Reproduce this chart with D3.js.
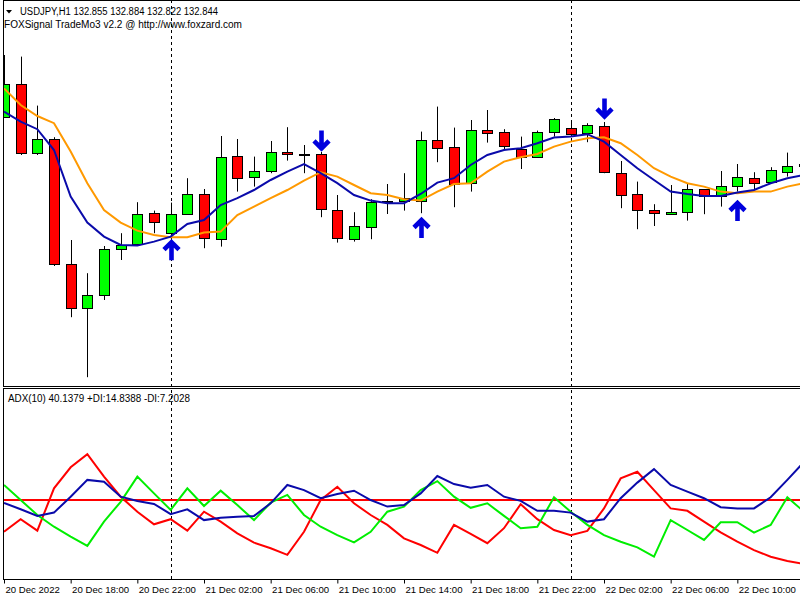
<!DOCTYPE html>
<html>
<head>
<meta charset="utf-8">
<script src="https://cdn.jsdelivr.net/npm/d3@7"></script>
<style>
body { margin: 0; background: #fff; }
text { font-family: "Liberation Sans", Arial, sans-serif; fill: #000; }
</style>
</head>
<body>
<div id="chart"></div>
<script>
// USDJPY H1, 20 Dec 2022 14:00 onward (one entry per bar)
var opens  = [133.089,133.255,132.909,132.980,132.354,132.134,132.199,132.429,132.455,132.612,
              132.512,132.605,132.705,132.479,132.895,132.790,132.822,132.917,132.904,132.905,
              132.625,132.484,132.542,132.670,132.667,132.672,132.975,132.942,132.759,133.025,
              133.014,132.930,132.889,133.014,133.037,133.008,133.045,132.812,132.704,132.625,
              132.605,132.614,132.729,132.695,132.745,132.787,132.764,132.817,132.855];
var highs  = [133.400,133.392,133.147,132.989,132.475,132.309,132.445,132.509,132.664,132.622,
              132.662,132.784,132.730,132.995,132.980,132.892,132.970,133.039,132.950,132.915,
              132.700,132.614,132.679,132.755,132.809,133.017,133.142,133.037,133.075,133.125,
              133.029,132.992,133.022,133.085,133.070,133.059,133.065,132.870,132.767,132.654,
              132.750,132.755,132.730,132.820,132.855,132.814,132.839,132.912,132.884];
var lows   = [133.085,132.900,132.900,132.345,132.089,131.789,132.175,132.375,132.450,132.509,
              132.395,132.603,132.434,132.442,132.717,132.742,132.809,132.872,132.809,132.589,
              132.462,132.467,132.479,132.605,132.622,132.609,132.864,132.639,132.717,132.962,
              132.925,132.830,132.888,132.992,132.992,132.964,132.809,132.634,132.529,132.545,
              132.602,132.572,132.604,132.642,132.717,132.725,132.759,132.792,132.822];
var closes = [133.255,132.909,132.980,132.354,132.134,132.199,132.429,132.450,132.605,132.567,
              132.605,132.705,132.484,132.889,132.787,132.822,132.917,132.905,132.904,132.629,
              132.484,132.547,132.667,132.670,132.684,132.975,132.937,132.759,133.025,133.008,
              132.942,132.889,133.014,133.079,133.005,133.050,132.817,132.700,132.622,132.609,
              132.615,132.729,132.692,132.745,132.789,132.764,132.825,132.847,132.844];

// moving averages drawn over the candles
var maFast = [133.117,133.067,133.029,132.925,132.692,132.562,132.492,132.450,132.447,132.467,
              132.492,132.555,132.575,132.650,132.684,132.725,132.775,132.817,132.854,132.809,
              132.759,132.700,132.672,132.659,132.659,132.705,132.762,132.784,132.850,132.900,
              132.925,132.934,132.959,132.987,132.992,133.004,132.967,132.900,132.834,132.775,
              132.717,132.705,132.695,132.695,132.712,132.725,132.759,132.784,132.800];
var maSlow = [133.233,133.150,133.095,133.059,132.917,132.759,132.625,132.562,132.522,132.500,
              132.489,132.489,132.512,132.517,132.600,132.642,132.684,132.725,132.772,132.814,
              132.792,132.750,132.709,132.700,132.679,132.672,132.717,132.755,132.759,132.817,
              132.867,132.889,132.905,132.942,132.967,132.984,132.989,132.959,132.900,132.834,
              132.792,132.759,132.742,132.717,132.709,132.717,132.717,132.742,132.759];

// signal arrows
var signalBars   = [10, 19, 25, 36, 44];
var signalDirs   = ["up", "down", "up", "down", "up"];
var signalPrices = [132.479, 132.918, 132.590, 133.078, 132.675];

// ADX(10) sub window
var adxLine = [24.0,21.9,19.7,20.8,26.1,31.7,31.1,26.1,24.7,23.7,
               20.3,21.9,18.3,19.1,19.4,19.7,23.9,30.0,28.3,25.6,
               27.0,28.1,25.0,22.8,23.3,27.2,33.0,30.3,29.1,30.0,
               26.1,24.7,21.4,21.4,20.8,17.8,18.6,25.6,30.8,35.3,
               30.0,27.8,25.6,22.6,22.2,22.2,25.9,31.7,37.7];
var plusDI  = [30.0,25.0,20.0,16.1,12.8,9.7,17.8,24.4,32.8,27.2,
               21.7,28.9,23.0,28.1,23.3,18.3,24.1,26.7,20.0,16.1,
               13.3,10.9,14.4,21.1,22.8,28.3,31.3,26.1,22.4,23.9,
               19.7,15.6,16.1,25.9,21.1,16.7,13.3,11.1,9.2,6.1,
               18.3,15.0,11.7,17.6,17.6,14.1,16.7,25.9,21.1];
var minusDI = [14.4,18.6,14.8,28.9,35.9,40.3,32.8,26.1,21.1,16.9,
               18.6,14.8,21.1,17.8,13.9,10.8,8.9,6.7,14.4,25.0,
               29.4,23.9,20.0,16.7,12.2,10.0,7.4,16.7,13.7,10.6,
               15.6,23.6,18.6,15.0,13.3,14.7,22.2,32.2,34.4,28.3,
               22.2,21.4,17.8,14.2,11.1,8.3,6.1,4.7,3.7];
var adxLevel = 25;

var tickBars   = [0, 4, 8, 12, 16, 20, 24, 28, 32, 36, 40, 44];
var tickLabels = ["20 Dec 2022", "20 Dec 18:00", "20 Dec 22:00", "21 Dec 02:00",
                  "21 Dec 06:00", "21 Dec 10:00", "21 Dec 14:00", "21 Dec 18:00",
                  "21 Dec 22:00", "22 Dec 02:00", "22 Dec 06:00", "22 Dec 10:00"];
var daySeparators = [10, 34];

var mainTop = 0, mainBottom = 386, adxTop = 388, adxBottom = 579, leftEdge = 3;

var svg = d3.select("#chart")
    .append("svg")
    .attr("width", 800)
    .attr("height", 600);

var x = d3.scaleLinear()
    .domain([0, opens.length - 1])
    .range([4, 804]);

var y = d3.scaleLinear()
    .domain([131.745, 133.675])
    .range([mainBottom, mainTop]);

var adxY = d3.scaleLinear()
    .domain([0, 50])
    .range([575, 425]);

var defs = svg.append("defs");
defs.append("clipPath").attr("id", "clipMain")
    .append("rect").attr("x", leftEdge + 1).attr("y", mainTop + 1)
    .attr("width", 800).attr("height", mainBottom - mainTop - 1);
defs.append("clipPath").attr("id", "clipAdx")
    .append("rect").attr("x", leftEdge + 1).attr("y", adxTop + 1)
    .attr("width", 800).attr("height", adxBottom - adxTop - 1);

// day separators
svg.append("g").selectAll("line")
    .data(daySeparators)
    .enter()
    .append("line")
    .attr("x1", function(d) { return Math.round(x(d)) + 0.5; })
    .attr("x2", function(d) { return Math.round(x(d)) + 0.5; })
    .attr("y1", mainTop)
    .attr("y2", adxBottom)
    .attr("stroke", "#000")
    .attr("stroke-dasharray", "3,3");

// candles
var main = svg.append("g").attr("clip-path", "url(#clipMain)");

main.append("g").selectAll("line")
    .data(opens)
    .enter()
    .append("line")
    .attr("x1", function(d, i) { return Math.round(x(i)) + 0.5; })
    .attr("x2", function(d, i) { return Math.round(x(i)) + 0.5; })
    .attr("y1", function(d, i) { return y(highs[i]); })
    .attr("y2", function(d, i) { return y(lows[i]); })
    .attr("stroke", "#000");

main.append("g").selectAll("rect")
    .data(opens)
    .enter()
    .append("rect")
    .attr("x", function(d, i) { return Math.round(x(i)) - 5 + 0.5; })
    .attr("width", 10)
    .attr("y", function(d, i) { return Math.round(Math.min(y(d), y(closes[i]))) + 0.5; })
    .attr("height", function(d, i) { return Math.max(Math.round(Math.abs(y(d) - y(closes[i]))), 1); })
    .attr("fill", function(d, i) {
        if (closes[i] > d) return "#00ff00";
        if (closes[i] < d) return "#ff0000";
        return "#000";
    })
    .attr("stroke", "#000");

var maLine = d3.line()
    .x(function(d, i) { return x(i); })
    .y(function(d) { return y(d); });

main.append("path")
    .attr("d", maLine(maSlow))
    .attr("fill", "none")
    .attr("stroke", "#ff9900")
    .attr("stroke-width", 2);

main.append("path")
    .attr("d", maLine(maFast))
    .attr("fill", "none")
    .attr("stroke", "#0a0aaa")
    .attr("stroke-width", 2);

// arrows
main.append("g").selectAll("path")
    .data(signalBars)
    .enter()
    .append("path")
    .attr("transform", function(d, i) {
        var flip = signalDirs[i] == "up" ? 1 : -1;
        return "translate(" + (Math.round(x(d)) + 0.5) + "," + y(signalPrices[i]) + ") scale(1," + flip + ")";
    })
    .attr("d", "M0,3 L0,21 M-7.5,10.5 L0,3 L7.5,10.5")
    .attr("fill", "none")
    .attr("stroke", "#0000dd")
    .attr("stroke-width", 4.6);

// ADX window
var adx = svg.append("g").attr("clip-path", "url(#clipAdx)");

adx.append("line")
    .attr("x1", leftEdge)
    .attr("x2", 800)
    .attr("y1", adxY(adxLevel))
    .attr("y2", adxY(adxLevel))
    .attr("stroke", "#ff0000")
    .attr("stroke-width", 2);

var adxPath = d3.line()
    .x(function(d, i) { return x(i); })
    .y(function(d) { return adxY(d); });

var adxSeries = [
    { values: minusDI, color: "#ff0000" },
    { values: plusDI, color: "#00ee00" },
    { values: adxLine, color: "#0a0aaa" }
];

adx.selectAll("path.series")
    .data(adxSeries)
    .enter()
    .append("path")
    .attr("class", "series")
    .attr("d", function(d) { return adxPath(d.values); })
    .attr("fill", "none")
    .attr("stroke", function(d) { return d.color; })
    .attr("stroke-width", 2);

// frames
var frame = svg.append("g").attr("stroke", "#000").attr("fill", "none");
frame.append("path").attr("d", "M" + (leftEdge + 0.5) + ",0.5 H800 M" + (leftEdge + 0.5) + ",0 V" + mainBottom);
frame.append("path").attr("d", "M" + leftEdge + "," + (mainBottom + 0.5) + " H800");
frame.append("path").attr("d", "M" + leftEdge + "," + (adxTop + 0.5) + " H800");
frame.append("path").attr("d", "M" + (leftEdge + 0.5) + "," + adxTop + " V" + adxBottom);

var xAxis = d3.axisBottom(x)
    .tickValues(tickBars)
    .tickFormat(function(d, i) { return tickLabels[i]; })
    .tickSize(4)
    .tickSizeOuter(0);

var axisG = svg.append("g")
    .attr("transform", "translate(0," + (adxBottom + 0.5) + ")")
    .call(xAxis);

axisG.select(".domain")
    .attr("d", "M" + leftEdge + ",0H800");
axisG.selectAll("text")
    .style("text-anchor", "start")
    .style("font-family", "'Liberation Sans', Arial, sans-serif")
    .style("font-size", "9.6px")
    .attr("fill", "#000")
    .attr("dx", "0.1em");

// texts
svg.append("path")
    .attr("d", "M6,10 L12,10 L9,13.5 Z")
    .attr("fill", "#000");

svg.append("text")
    .attr("x", 20)
    .attr("y", 15)
    .attr("font-size", "10px")
    .attr("textLength", 198)
    .attr("lengthAdjust", "spacingAndGlyphs")
    .text("USDJPY,H1  132.855 132.884 132.822 132.844");

svg.append("text")
    .attr("x", 4)
    .attr("y", 28)
    .attr("font-size", "10px")
    .attr("textLength", 238)
    .attr("lengthAdjust", "spacingAndGlyphs")
    .text("FOXSignal TradeMo3 v2.2 @ http://www.foxzard.com");

svg.append("text")
    .attr("x", 8)
    .attr("y", 401.5)
    .attr("font-size", "10px")
    .attr("textLength", 182)
    .attr("lengthAdjust", "spacingAndGlyphs")
    .text("ADX(10) 40.1379 +DI:14.8388 -DI:7.2028");
</script>
</body>
</html>
